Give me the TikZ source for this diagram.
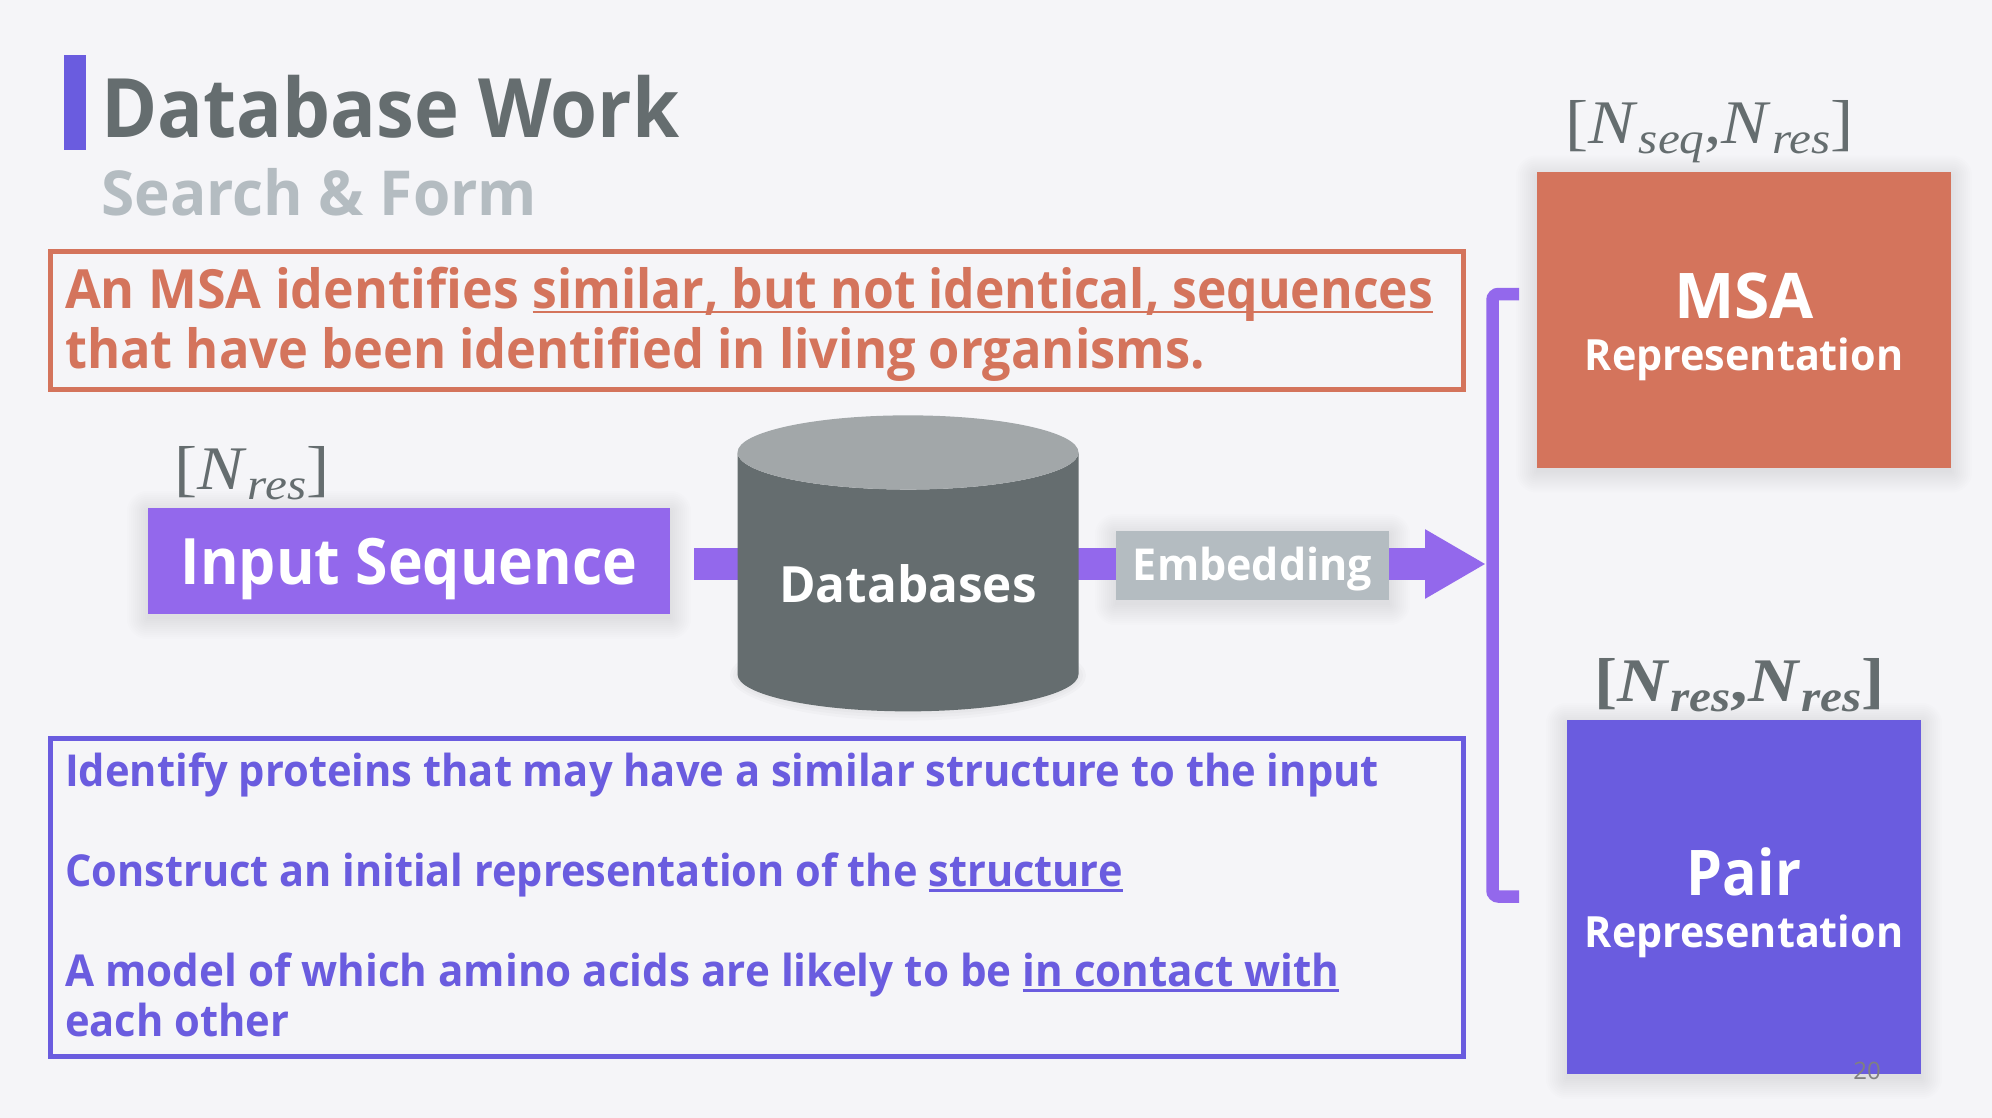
\documentclass[tikz,border=0pt]{standalone}
\usepackage{amsmath}
\usepackage{fontspec}
\setmainfont{Open Sans}
\newfontfamily\dimfont[FakeStretch=1.12]{Liberation Serif}
\usetikzlibrary{arrows.meta,backgrounds,shapes.geometric}
\definecolor{slidebg}{HTML}{F5F5F8}
\definecolor{slategrey}{HTML}{656D6F}
\definecolor{palegrey}{HTML}{B4BCC1}
\definecolor{topgrey}{HTML}{A2A7A9}
\definecolor{salmon}{HTML}{D4745C}
\definecolor{indigo}{HTML}{6A5CDF}
\definecolor{violet}{HTML}{9368EC}
% size, then horizontal stretch
\newcommand{\fsize}[2]{\fontspec[FakeStretch=#2]{Open Sans}\fontsize{#1}{#1}\selectfont\bfseries}
\newcommand{\fstretch}[1]{\fontspec[FakeStretch=#1]{Open Sans}\bfseries}
\newcommand{\softshadow}[1]{
    \begin{scope}[on background layer]
        \foreach \g in {1,3,...,21}
            \fill[black, opacity=0.008, rounded corners=\g pt]
                ([shift={(-\g pt,\g pt-4pt)}]#1.north west) rectangle ([shift={(\g pt,-\g pt-4pt)}]#1.south east);
    \end{scope}
}
\newcommand{\uline}[1]{\sbox0{#1}\rlap{\rule[-5pt]{\wd0}{2.5pt}}\usebox0}
\newcommand{\dimN}[1]{\textit{N}\kern1pt\raisebox{-10pt}{\fontsize{44}{44}\selectfont\textit{#1}}}
\newcommand{\dimsize}{\dimfont\fontsize{62}{62}\selectfont}
% baseline at a given distance under the node centre
\newcommand{\lowered}[2]{\raisebox{-#1}[0pt][0pt]{#2}}

\begin{document}
\begin{tikzpicture}[x=1pt, y=-1pt]
    % Define styles
    \tikzstyle{notebox} = [rectangle, draw, line width=5pt, inner sep=0pt, anchor=north west]
    \tikzstyle{block} = [rectangle, text=white, align=center, inner sep=0pt]
    \tikzstyle{shape label} = [text=slategrey, inner sep=0pt, anchor=base west]
    \tikzstyle{shaft} = [violet, line width=32pt]
    \tikzstyle{bracket} = [violet, line width=12.5pt, rounded corners=6pt]

    % Slide
    \begin{scope}[on background layer]
        \fill[slidebg] (0,0) rectangle (1992,1118);
    \end{scope}
    \useasboundingbox (0,0) rectangle (1992,1118);
    \node (title_bar) [fill=indigo, minimum width=22pt, minimum height=95pt, inner sep=0pt] at (75,103) {};
    \node (title) [anchor=base west, inner sep=0pt, text=slategrey] at (101,138) {\fsize{82}{0.927}Database Work};
    \node (subtitle) [anchor=base west, inner sep=0pt, text=palegrey] at (101,215) {\fsize{62}{0.973}Search \& Form};

    % Notes
    \node (msa_note) [notebox, draw=salmon, minimum width=1413pt, minimum height=138pt] at (48,249) {};
    \node (msa_text) [anchor=base west, inner sep=0pt, text=salmon] at (65,308) {\fsize{54}{0.96}An MSA identifies \uline{\fsize{54}{0.922}similar, but not identical, sequences}};
    \node (msa_text2) [anchor=base west, inner sep=0pt, text=salmon] at (65,368) {\fsize{54}{0.936}that have been identified in living organisms.};
    \node (pair_note) [notebox, draw=indigo, minimum width=1413pt, minimum height=318pt] at (48,736) {};
    \node (pair_text) [anchor=north west, align=left, inner sep=0pt, text=indigo, font={\fontspec[FakeStretch=0.947]{Open Sans}\fontsize{44}{50}\selectfont\bfseries}] at (65,753) {Identify proteins that may have a similar structure to the input\\[50pt]
        \fstretch{0.943}Construct an initial representation of the \uline{structure}\\[50pt]
        \fstretch{0.958}A model of which amino acids are likely to be \uline{in contact with}\\
        each other};

    % Nodes
    \node (input_seq) [block, fill=violet, minimum width=522pt, minimum height=106pt] at (409,561) {\lowered{23pt}{\fsize{64}{0.92}Input Sequence}};
    \node (databases) [shape=cylinder, shape border rotate=90, shape aspect=0.288, cylinder uses custom fill, cylinder body fill=slategrey, cylinder end fill=topgrey, minimum width=341pt, minimum height=296pt, inner sep=0pt, text=white] at (908,582) {\lowered{20pt}{\fsize{50}{0.99}Databases}};
    \node (embedding) [block, fill=palegrey, minimum width=273pt, minimum height=69pt] at (1252.5,565.5) {\lowered{15pt}{\fsize{44}{0.978}Embedding}};
    \node (msa_repr) [block, fill=salmon, minimum width=414pt, minimum height=295pt] at (1744,320) {\fsize{63}{1.017}\rule{0pt}{60pt}MSA\\[18pt]\fsize{43}{0.961}Representation};
    \node (pair_repr) [block, fill=indigo, minimum width=354pt, minimum height=354pt] at (1744,897) {\fsize{63}{0.91}\rule{0pt}{60pt}Pair\\[18pt]\fsize{43}{0.961}Representation};
    \softshadow{input_seq}
    \softshadow{embedding}
    \softshadow{msa_repr}
    \softshadow{pair_repr}
    \begin{scope}[on background layer]
        \foreach \g in {2,5,8}
            \fill[black, opacity=0.02] ([yshift=36pt]databases.south) ellipse ({170+\g} and {37+\g});
    \end{scope}

    % Shape labels
    \node (input_dim) [shape label] at (174,489) {\dimsize[\dimN{res}]};
    \node (msa_dim) [shape label] at (1565,144) {\dimsize[\dimN{seq},\dimN{res}]};
    \node (pair_dim) [shape label] at (1594,701) {\dimsize\bfseries[\dimN{res},\dimN{res}]};
    \node (page_num) [text=gray, inner sep=0pt] at (1867,1071) {\fontsize{24}{24}\selectfont 20};

    % Arrows
    \coordinate (tip) at (1486,564);
    \coordinate (bracket_top) at (1519,294);
    \coordinate (bracket_bot) at (1519,896.5);
    \begin{scope}[on background layer]
        \draw [shaft] ([xshift=24pt]input_seq.east |- tip) -- (databases.center |- tip);
        \draw [shaft] (databases.center |- tip) -- (embedding.center |- tip);
        \draw [shaft, -{Triangle[length=61pt,width=65pt]}] (embedding.center |- tip) -- (tip);
    \end{scope}
    \draw [bracket] (bracket_top) -- ++(-26.5,0) |- (bracket_bot);
\end{tikzpicture}
\end{document}
